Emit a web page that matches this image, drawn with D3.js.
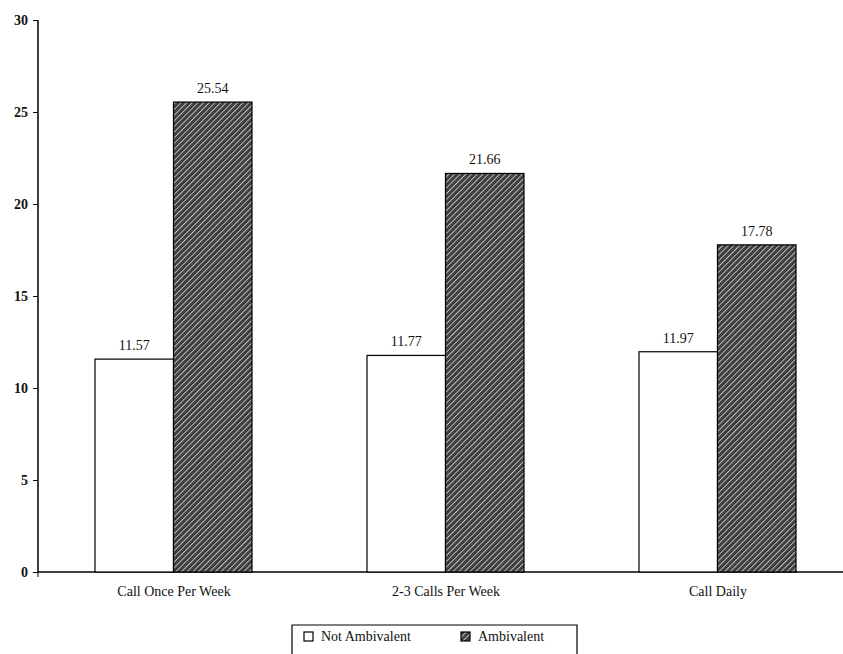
<!DOCTYPE html>
<html><head><meta charset="utf-8">
<script src="https://cdn.jsdelivr.net/npm/d3@7"></script>
<style>body{margin:0;background:#fff}svg{display:block}</style>
</head><body>
<script>
const categories = ["Call Once Per Week", "2-3 Calls Per Week", "Call Daily"];
const seriesNames = ["Not Ambivalent", "Ambivalent"];
const notAmbivalent = [11.57, 11.77, 11.97];
const ambivalent = [25.54, 21.66, 17.78];
const yTicks = [0, 5, 10, 15, 20, 25, 30];

const W = 843, H = 654;
const FONT = "Liberation Serif";
const svg = d3.select("body").append("svg").attr("width", W).attr("height", H);

const defs = svg.append("defs");
const pat = defs.append("pattern").attr("id", "hatch").attr("patternUnits", "userSpaceOnUse")
  .attr("width", 4).attr("height", 4).attr("patternTransform", "rotate(45)");
pat.append("rect").attr("width", 4).attr("height", 4).attr("fill", "#262626");
pat.append("rect").attr("x", 0).attr("width", 1.1).attr("height", 4).attr("fill", "#c8c8c8");
pat.append("rect").attr("x", 2.4).attr("width", 0.6).attr("height", 4).attr("fill", "#6a6a6a");

const y = d3.scaleLinear().domain([0, 30]).range([572, 20]);
const x0 = d3.scaleBand().domain(categories).range([38, 854]).paddingInner(0).paddingOuter(0);
const x1 = d3.scaleBand().domain(seriesNames).range([57, 214]).padding(0);

// y axis
const yAxis = d3.axisLeft(y).tickValues(yTicks).tickSize(5).tickPadding(5).tickFormat(d3.format("d"));
const yg = svg.append("g").attr("transform", "translate(38,0)").call(yAxis);
yg.select(".domain").attr("d", "M0,572V20").attr("stroke", "#000").attr("stroke-width", 1.5);
yg.selectAll("text").style("font-family", FONT).style("font-size", "14px").style("font-weight", "bold").attr("fill", "#111");

// x axis
const xAxis = d3.axisBottom(x0).tickSize(0).tickPadding(14);
const xg = svg.append("g").attr("transform", "translate(0,572)").call(xAxis);
xg.select(".domain").attr("d", "M38,0H843").attr("stroke", "#000").attr("stroke-width", 1.5);
xg.selectAll("text").style("font-family", FONT).style("font-size", "14px").attr("fill", "#111");
svg.append("line").attr("x1", 38).attr("x2", 38).attr("y1", 572).attr("y2", 577).attr("stroke", "#000");

const rows = categories.map((c, i) => ({cat: c, vals: [notAmbivalent[i], ambivalent[i]]}));
const g = svg.append("g");
rows.forEach(r => {
  r.vals.forEach((v, j) => {
    const s = seriesNames[j];
    const bx = x0(r.cat) + x1(s);
    g.append("rect").attr("x", bx).attr("y", y(v)).attr("width", x1.bandwidth()).attr("height", y(0) - y(v))
      .attr("fill", j === 0 ? "#fff" : "url(#hatch)").attr("stroke", "#000").attr("stroke-width", 1.2);
    g.append("text").attr("x", bx + x1.bandwidth() / 2).attr("y", y(v) - 9).attr("text-anchor", "middle")
      .style("font-family", FONT).style("font-size", "14px").attr("fill", "#111").text(v.toFixed(2));
  });
});

// legend
const lg = svg.append("g");
lg.append("path").attr("d", "M292,656V625H577V656").attr("fill", "none").attr("stroke", "#000").attr("stroke-width", 1.2);
const items = [{name: seriesNames[0], fill: "#fff", x: 304}, {name: seriesNames[1], fill: "url(#hatch)", x: 461}];
items.forEach(it => {
  lg.append("rect").attr("x", it.x).attr("y", 632).attr("width", 9).attr("height", 9).attr("fill", it.fill).attr("stroke", "#000").attr("stroke-width", 1.2);
  lg.append("text").attr("x", it.x + 17).attr("y", 641).style("font-family", FONT).style("font-size", "14px").attr("fill", "#111").text(it.name);
});
</script>
</body></html>
